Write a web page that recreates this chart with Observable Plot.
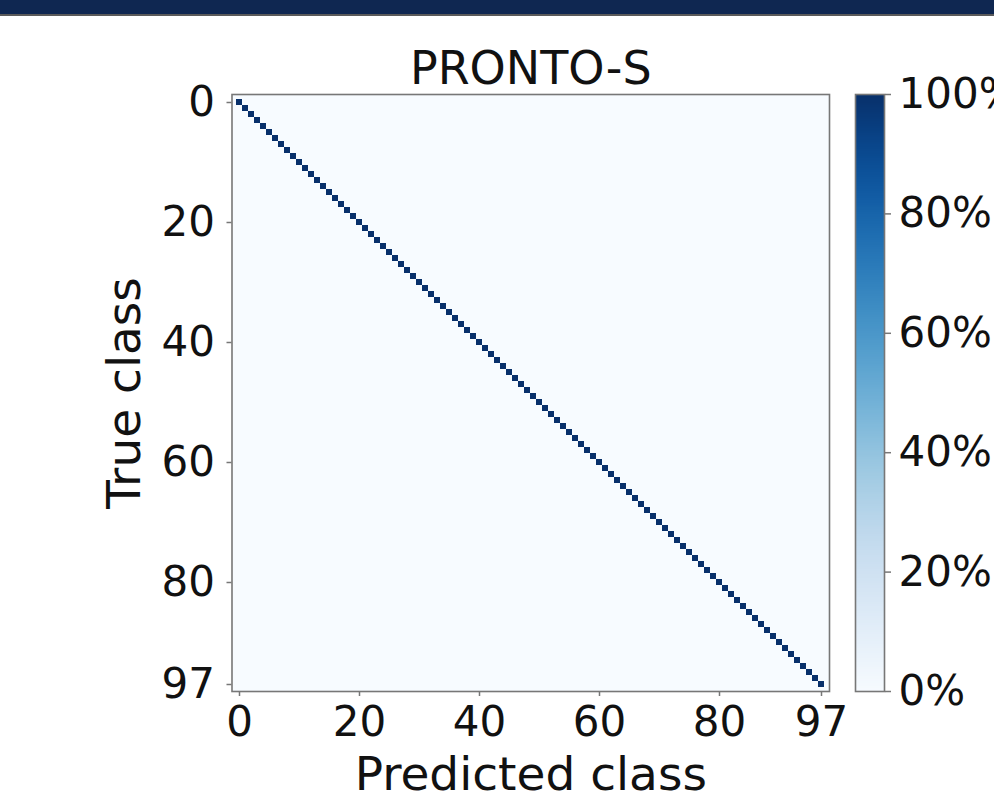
<!DOCTYPE html>
<html><head><meta charset="utf-8">
<script src="https://cdn.jsdelivr.net/npm/d3@7"></script>
<script src="https://cdn.jsdelivr.net/npm/@observablehq/plot@0.6"></script>
<style>
html,body{margin:0;padding:0;width:994px;height:796px;overflow:hidden;background:#fff;}
#bar{position:absolute;left:0;top:0;width:994px;height:14px;background:#0f2751;border-bottom:2px solid #5a5a5a;}
#main,#cbar{position:absolute;top:0;}
#main{left:0}
#cbar{left:855px}
svg{max-width:none !important;}
</style></head><body>
<div id="main"></div><div id="cbar"></div><div id="bar"></div>
<script>
const title = "PRONTO-S";
const xLabel = "Predicted class";
const yLabel = "True class";
// per-class accuracy (%) on the diagonal, classes 0..97
const diagonal = [
  100,100,100,100,100,100,100,100,100,100,
  100,100,100,100,100,100,100,100,100,100,
  100,100,100,100,100,100,100,100,100,100,
  100,100,100,100,100,100,100,100,100,100,
  100,100,100,100,100,100,100,100,100,100,
  100,100,100,100,100,100,100,100,100,100,
  100,100,100,100,100,100,100,100,100,100,
  100,100,100,100,100,100,100,100,100,100,
  100,100,100,100,100,100,100,100,100,100,
  100,100,100,100,100,100,100,100
];
const tickLabels = [0, 20, 40, 60, 80, 97];
const colorTicks = [0, 20, 40, 60, 80, 100];

const classes = diagonal.map((_, i) => i);
const cells = [];
for (const t of classes) for (const p of classes) cells.push({t, p, v: t === p ? diagonal[t] : 0});

const FONT = "DejaVu Sans";
const AX = "#777";
const colorOpt = {type: "linear", scheme: "blues", domain: [0, 100]};

const main = Plot.plot({
  width: 994, height: 796,
  marginLeft: 231.5, marginRight: 165, marginTop: 94, marginBottom: 105,
  style: {fontFamily: FONT, fontSize: "42px", background: "transparent", overflow: "visible", color: "#111"},
  x: {type: "band", domain: classes, padding: 0, axis: null},
  y: {type: "band", domain: classes, padding: 0, axis: null},
  color: colorOpt,
  marks: [
    Plot.frame({fill: d3.interpolateBlues(0)}),
    Plot.cell(cells, {x: "p", y: "t", fill: "v", inset: 0}),
    Plot.frame({stroke: AX, strokeWidth: 1.6}),
    Plot.axisX(tickLabels, {anchor: "bottom", tickSize: 5, tickPadding: 10, fontSize: 42, stroke: AX, strokeWidth: 1.5, fill: "#111", label: null}),
    Plot.axisY(tickLabels, {anchor: "left", tickSize: 5, tickPadding: 12, fontSize: 42, stroke: AX, strokeWidth: 1.5, fill: "#111", label: null}),
    Plot.text([title], {frameAnchor: "top", text: d => d, dy: -11, lineAnchor: "bottom", fontSize: 46, fill: "#111"}),
    Plot.text([xLabel], {frameAnchor: "bottom", text: d => d, dy: 98, lineAnchor: "bottom", fontSize: 47, fill: "#111"}),
    Plot.text([yLabel], {frameAnchor: "left", text: d => d, dx: -92, rotate: -90, textAnchor: "middle", lineAnchor: "bottom", fontSize: 47, fill: "#111"})
  ]
});
document.getElementById("main").append(main);

const cbar = Plot.plot({
  width: 139, height: 796,
  marginLeft: 0, marginRight: 110, marginTop: 94, marginBottom: 105,
  style: {fontFamily: FONT, fontSize: "42px", background: "transparent", overflow: "visible", color: "#111"},
  x: {domain: [0, 1], axis: null},
  y: {domain: [0, 100], axis: null},
  color: colorOpt,
  marks: [
    Plot.raster({fill: (x, y) => y, x1: 0, x2: 1, y1: 0, y2: 100, width: 2, height: 256}),
    Plot.frame({stroke: AX, strokeWidth: 1.6}),
    Plot.axisY(colorTicks, {anchor: "right", tickSize: 6, tickPadding: 8, fontSize: 42, stroke: AX, strokeWidth: 1.5, fill: "#111", label: null, tickFormat: d => d + "%"})
  ]
});
document.getElementById("cbar").append(cbar);
</script>
</body></html>
